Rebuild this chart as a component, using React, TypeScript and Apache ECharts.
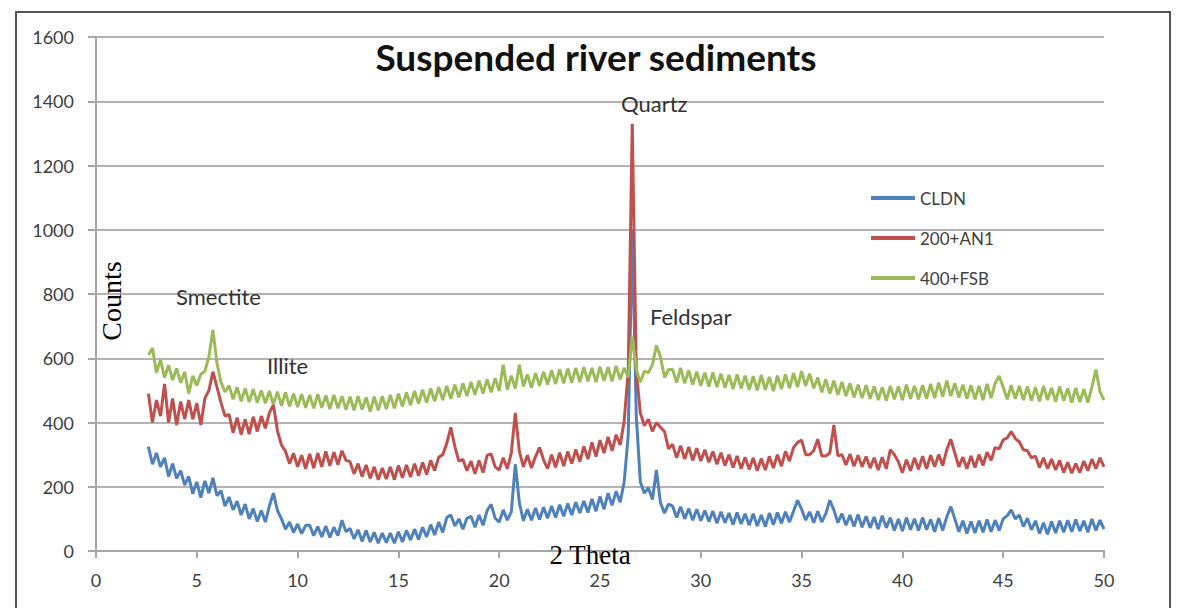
import React, { useEffect, useRef } from "react";
import * as echarts from "echarts";

// 2θ scan grid: 2.6 → 50.0 in steps of 0.2
const X_START = 2.6;
const X_STEP = 0.2;

const SERIES_NAMES = ["CLDN", "200+AN1", "400+FSB"];
const COLORS = ["#4F81BD", "#C0504D", "#9BBB59"];

const CLDN = [
  325, 270, 305, 262, 290, 232, 272, 226, 250, 205,
  232, 178, 215, 166, 218, 180, 228, 172, 188, 140,
  168, 128, 155, 112, 146, 100, 132, 92, 126, 90,
  140, 180, 126, 100, 68, 90, 58, 84, 54, 80,
  80, 48, 76, 44, 78, 42, 74, 48, 96, 60,
  70, 38, 66, 30, 64, 28, 58, 24, 56, 26,
  56, 24, 60, 28, 64, 34, 68, 36, 74, 44,
  82, 50, 90, 58, 104, 112, 78, 100, 68, 102,
  108, 74, 112, 80, 126, 145, 102, 90, 128, 96,
  122, 270, 150, 94, 130, 96, 134, 98, 136, 102,
  140, 104, 144, 108, 148, 112, 152, 118, 156, 120,
  162, 124, 170, 130, 180, 142, 186, 152, 215, 360,
  1000, 420, 215, 180, 196, 160, 252, 150, 118, 146,
  140, 104, 138, 100, 132, 96, 130, 94, 126, 92,
  124, 86, 122, 88, 118, 82, 120, 84, 116, 80,
  116, 78, 112, 76, 118, 82, 120, 86, 122, 90,
  124, 158, 130, 96, 122, 88, 124, 90, 116, 158,
  128, 88, 116, 80, 112, 76, 114, 74, 108, 72,
  106, 68, 110, 72, 104, 64, 100, 62, 104, 66,
  100, 64, 104, 66, 98, 60, 102, 64, 106, 138,
  100, 60, 94, 54, 92, 56, 94, 58, 98, 60,
  96, 64, 100, 110, 128, 100, 112, 76, 102, 66,
  94, 54, 88, 52, 92, 56, 94, 58, 96, 60,
  98, 62, 94, 58, 100, 64, 96, 68,
];

const AN1 = [
  490, 400, 470, 420, 520, 400, 475, 392, 465, 410,
  470, 410, 460, 392, 475, 500, 558, 510, 462, 420,
  425, 368, 415, 362, 410, 364, 418, 372, 420, 382,
  430, 455, 375, 330, 310, 272, 304, 262, 298, 256,
  302, 258, 305, 262, 310, 265, 308, 268, 312, 282,
  278, 240, 272, 232, 268, 226, 262, 222, 258, 224,
  262, 222, 266, 228, 268, 230, 272, 234, 276, 238,
  282, 250, 292, 300, 335, 385, 325, 280, 285, 250,
  280, 240, 282, 244, 298, 302, 262, 252, 290, 256,
  305, 430, 310, 262, 298, 258, 294, 322, 284, 256,
  300, 260, 306, 264, 310, 272, 316, 278, 326, 286,
  338, 294, 345, 305, 355, 312, 362, 330, 405, 560,
  1330, 560, 430, 390, 410, 372, 400, 385, 372, 318,
  332, 290, 328, 286, 324, 282, 320, 280, 315, 276,
  310, 270, 306, 266, 300, 260, 296, 256, 292, 254,
  290, 250, 288, 252, 294, 258, 300, 264, 310, 280,
  322, 338, 345, 300, 300, 312, 348, 296, 296, 305,
  392, 296, 300, 268, 302, 264, 298, 262, 294, 258,
  290, 252, 292, 256, 315, 300, 278, 244, 284, 250,
  290, 254, 295, 256, 298, 262, 300, 266, 315, 348,
  305, 262, 292, 256, 296, 260, 300, 266, 308, 282,
  322, 318, 346, 352, 372, 350, 340, 315, 312, 290,
  295, 260, 290, 256, 286, 252, 282, 244, 276, 242,
  272, 244, 280, 250, 286, 256, 290, 262,
];

const FSB = [
  610, 632, 555, 595, 540, 578, 532, 568, 524, 558,
  490, 545, 515, 550, 560, 605, 688, 585, 525, 495,
  515, 472, 510, 466, 506, 464, 504, 462, 500, 460,
  498, 456, 496, 452, 494, 450, 490, 448, 488, 446,
  486, 444, 488, 446, 484, 442, 486, 444, 482, 440,
  480, 438, 482, 440, 478, 434, 480, 438, 482, 442,
  486, 444, 490, 450, 494, 454, 498, 458, 502, 462,
  506, 466, 510, 470, 514, 474, 518, 478, 522, 482,
  526, 486, 530, 490, 534, 494, 538, 498, 580, 502,
  546, 506, 580, 512, 550, 508, 554, 514, 558, 518,
  562, 520, 566, 522, 568, 524, 570, 526, 572, 528,
  570, 526, 574, 530, 572, 528, 576, 534, 570, 540,
  670, 565, 525, 560, 555, 580, 640, 605, 540, 565,
  565, 524, 570, 522, 562, 518, 558, 514, 555, 512,
  556, 510, 552, 508, 548, 504, 550, 506, 546, 502,
  544, 500, 548, 502, 542, 498, 546, 504, 550, 506,
  554, 510, 560, 514, 552, 506, 540, 494, 534, 490,
  530, 486, 526, 482, 522, 478, 518, 476, 516, 474,
  512, 470, 510, 468, 514, 472, 512, 470, 518, 474,
  514, 472, 516, 474, 520, 476, 524, 480, 530, 482,
  522, 478, 518, 474, 516, 472, 514, 470, 520, 476,
  522, 545, 510, 472, 516, 474, 514, 470, 512, 468,
  510, 466, 514, 470, 508, 464, 512, 468, 506, 462,
  508, 464, 504, 462, 510, 565, 496, 470,
];

const Y_TICKS = { min: 0, max: 1600, interval: 200 };
const X_TICKS = { min: 0, max: 50, interval: 5 };

const ANNOTATIONS = [
  { text: "Smectite", x: 176, y: 296 },
  { text: "Illite", x: 267, y: 365 },
  { text: "Quartz", x: 621, y: 103 },
  { text: "Feldspar", x: 650, y: 316 },
];

function toPairs(values: number[]) {
  return values.map((v, i) => [+(X_START + i * X_STEP).toFixed(1), v]);
}

export default function App() {
  const ref = useRef<HTMLDivElement>(null);

  useEffect(() => {
    if (!ref.current) return;
    const chart = echarts.init(ref.current, undefined, { renderer: "svg" });
    const font = "Lato, 'Open Sans', sans-serif";
    const all = [CLDN, AN1, FSB];
    chart.setOption({
      animation: false,
      backgroundColor: "#ffffff",
      grid: { left: 96, right: 76, top: 37, bottom: 57, containLabel: false },
      legend: {
        orient: "vertical",
        left: 866,
        top: 184,
        itemWidth: 44,
        itemHeight: 4,
        itemGap: 22,
        icon: "rect",
        data: SERIES_NAMES,
        textStyle: { fontFamily: font, fontSize: 17, color: "#404040", lineHeight: 18 },
      },
      xAxis: {
        type: "value",
        min: X_TICKS.min,
        max: X_TICKS.max,
        interval: X_TICKS.interval,
        axisLine: { show: true, lineStyle: { color: "#a6a6a6", width: 2 } },
        axisTick: { show: true, length: 7, lineStyle: { color: "#a6a6a6", width: 2 } },
        axisLabel: { fontFamily: font, fontSize: 18, color: "#404040", margin: 20 },
        splitLine: { show: false },
      },
      yAxis: {
        type: "value",
        min: Y_TICKS.min,
        max: Y_TICKS.max,
        interval: Y_TICKS.interval,
        axisLine: { show: true, lineStyle: { color: "#a6a6a6", width: 2 } },
        axisTick: { show: true, length: 8, lineStyle: { color: "#a6a6a6", width: 2 } },
        axisLabel: {
          fontFamily: font,
          fontSize: 18,
          color: "#404040",
          margin: 22,
          formatter: (v: number) => String(v),
        },
        splitLine: { show: true, lineStyle: { color: "#b4b4b4", width: 2 } },
      },
      series: SERIES_NAMES.map((name, i) => ({
        name,
        type: "line",
        data: toPairs(all[i]),
        showSymbol: false,
        symbol: "none",
        lineStyle: { color: COLORS[i], width: 3 },
        itemStyle: { color: COLORS[i] },
        z: 2 + i,
      })),
      graphic: [
        {
          type: "rect",
          shape: { x: 16, y: 12, width: 1154, height: 640 },
          style: { fill: "none", stroke: "#555555", lineWidth: 2 },
          silent: true,
          z: 0,
        },
        {
          type: "text",
          x: 596,
          y: 56,
          style: {
            text: "Suspended river sediments",
            fontFamily: font,
            fontWeight: "bold",
            fontSize: 37,
            fill: "#111111",
            align: "center",
            verticalAlign: "middle",
          },
        },
        ...ANNOTATIONS.map((a) => ({
          type: "text",
          x: a.x,
          y: a.y,
          z: 10,
          style: {
            text: a.text,
            fontFamily: font,
            fontSize: 22,
            fill: "#333333",
            align: "left",
            verticalAlign: "middle",
          },
        })),
        {
          type: "text",
          x: 111,
          y: 301,
          rotation: Math.PI / 2,
          z: 10,
          style: {
            text: "Counts",
            fontFamily: "'Liberation Serif', 'DejaVu Serif', serif",
            fontSize: 28,
            fill: "#000000",
            align: "center",
            verticalAlign: "middle",
          },
        },
        {
          type: "text",
          x: 590,
          y: 555,
          z: 10,
          style: {
            text: "2 Theta",
            fontFamily: "'Liberation Serif', 'DejaVu Serif', serif",
            fontSize: 27,
            fill: "#000000",
            align: "center",
            verticalAlign: "middle",
          },
        },
      ],
    });
    return () => chart.dispose();
  }, []);

  return (
    <div
      ref={ref}
      style={{ position: "fixed", left: 0, top: 0, width: 1180, height: 608 }}
    />
  );
}
